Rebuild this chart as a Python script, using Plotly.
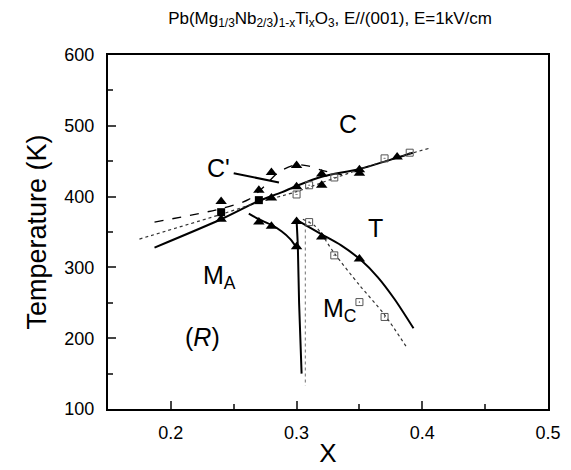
import plotly.graph_objects as go

# ---- data ----
tri_x = [0.24, 0.24, 0.27, 0.27, 0.28, 0.28, 0.28, 0.30, 0.30, 0.30, 0.30, 0.32, 0.32, 0.32, 0.35, 0.35, 0.35, 0.38]
tri_y = [393, 368, 409, 364, 434, 398, 358, 444, 414, 365, 329, 432, 416, 343, 438, 433, 312, 456]

sqf_x = [0.24, 0.27]
sqf_y = [378, 395]

sqo_x = [0.30, 0.31, 0.33, 0.37, 0.39, 0.31, 0.33, 0.35, 0.37]
sqo_y = [403, 416, 427, 454, 462, 364, 317, 251, 230]

# solid boundary C / M_A
solid1_x = [0.187, 0.24, 0.27, 0.288, 0.30, 0.32, 0.35, 0.38, 0.3925]
solid1_y = [328, 368, 394, 406, 415, 428, 439, 455, 462]
# dashed C' boundary
dash_x = [0.187, 0.24, 0.262, 0.274, 0.286, 0.30, 0.31, 0.32, 0.336]
dash_y = [364, 383, 396, 414, 435, 445, 443, 437, 431]
# dotted line through open squares
dot1_x = [0.175, 0.24, 0.27, 0.30, 0.33, 0.37, 0.405]
dot1_y = [340, 375, 392, 407, 426, 450, 468]
# solid M_A / curve
solid2_x = [0.262, 0.27, 0.28, 0.288, 0.295, 0.300]
solid2_y = [376, 368, 360, 351, 340, 328]
# near-vertical solid
solid3_x = [0.300, 0.301, 0.302, 0.304]
solid3_y = [366, 330, 250, 150]
# dotted vertical
dot2_x = [0.307, 0.307]
dot2_y = [362, 133]
# solid T / M_C
solid4_x = [0.301, 0.3196, 0.3355, 0.3514, 0.3647, 0.378, 0.393]
solid4_y = [366, 347, 331, 310, 286, 255, 214]
# dotted M_C
dot3_x = [0.305, 0.315, 0.33, 0.35, 0.37, 0.388]
dot3_y = [368, 358, 320, 275, 233, 186]
# C' pointer
ptr_x = [0.25, 0.286]
ptr_y = [433, 420]

FONT = "Liberation Sans, Arial, sans-serif"

fig = go.Figure()

def line(x, y, dash="solid", width=2, color="black", shape="spline"):
    fig.add_trace(go.Scatter(x=x, y=y, mode="lines",
                             line=dict(color=color, width=width, dash=dash, shape=shape, smoothing=0.8),
                             showlegend=False, hoverinfo="skip"))

line(solid1_x, solid1_y)
line(dash_x, dash_y, dash="dash", width=1.3)
line(dot1_x, dot1_y, dash="dot", width=1.2, color="#333")
line(solid2_x, solid2_y)
line(solid3_x, solid3_y)
line(dot2_x, dot2_y, dash="dot", width=1.2, color="#888", shape="linear")
line(solid4_x, solid4_y)
line(dot3_x, dot3_y, dash="dot", width=1.2, color="#333")
line(ptr_x, ptr_y, width=2, shape="linear")

fig.add_trace(go.Scatter(x=sqo_x, y=sqo_y, mode="markers",
                         marker=dict(symbol="square-open-dot", size=7, color="#555", line=dict(width=1)),
                         showlegend=False))
fig.add_trace(go.Scatter(x=sqf_x, y=sqf_y, mode="markers",
                         marker=dict(symbol="square", size=8, color="black"), showlegend=False))
fig.add_trace(go.Scatter(x=tri_x, y=tri_y, mode="markers",
                         marker=dict(symbol="triangle-up", size=10, color="black"), showlegend=False))

labels = [
    (0.3413, 502, "C"),
    (0.238, 440, "C'"),
    (0.3628, 356, "T"),
    (0.239, 287, "M<sub>A</sub>"),
    (0.334, 240, "M<sub>C</sub>"),
    (0.2254, 201, "(<i>R</i>)"),
]
for x, y, t in labels:
    fig.add_annotation(x=x, y=y, text=t, showarrow=False, xref="x", yref="y",
                       font=dict(size=25, color="black", family=FONT))

fig.update_layout(
    width=571, height=470,
    margin=dict(l=108, r=23, t=55, b=61),
    paper_bgcolor="white", plot_bgcolor="white",
    font=dict(family=FONT, color="black"),
    title=dict(text="Pb(Mg<sub>1/3</sub>Nb<sub>2/3</sub>)<sub>1-x</sub>Ti<sub>x</sub>O<sub>3</sub>, E//(001), E=1kV/cm",
               x=0.578, xanchor="center", y=0.962, yanchor="middle", font=dict(size=17)),
    xaxis=dict(range=[0.15, 0.5], tick0=0, dtick=0.1, ticks="inside", ticklen=8, tickwidth=1.5,
               showline=True, linecolor="black", linewidth=2, mirror=True, showgrid=False, zeroline=False,
               tickfont=dict(size=18), ticklabelstandoff=6, automargin=False,
               minor=dict(ticks="inside", ticklen=5, dtick=0.05, tick0=0, tickwidth=1.5),
               title=dict(text="X", font=dict(size=26), standoff=2)),
    yaxis=dict(range=[100, 600], dtick=100, ticks="inside", ticklen=8, tickwidth=1.5,
               showline=True, linecolor="black", linewidth=2, mirror=True, showgrid=False, zeroline=False,
               tickfont=dict(size=18), ticklabelstandoff=8, automargin=False,
               minor=dict(ticks="inside", ticklen=5, dtick=50, tickwidth=1.5),
               title=dict(text="Temperature (K)", font=dict(size=27), standoff=10)),
)

fig.write_html("out.html")
